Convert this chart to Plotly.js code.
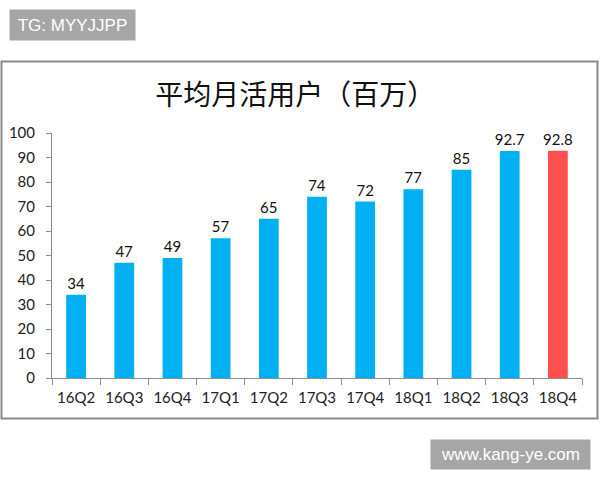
<!DOCTYPE html>
<html>
<head>
<meta charset="utf-8">
<script src="https://cdn.plot.ly/plotly-3.0.1.min.js"></script>
<style>html,body{margin:0;padding:0;background:#fff;}#chart{width:600px;height:480px;}</style>
</head>
<body>
<div id="chart"></div>
<script>
const categories = ["16Q2","16Q3","16Q4","17Q1","17Q2","17Q3","17Q4","18Q1","18Q2","18Q3","18Q4"];
const values = [34, 47, 49, 57, 65, 74, 72, 77, 85, 92.7, 92.8];
const valueLabels = ["34","47","49","57","65","74","72","77","85","92.7","92.8"];
const barColors = ["#00B0F0","#00B0F0","#00B0F0","#00B0F0","#00B0F0","#00B0F0","#00B0F0","#00B0F0","#00B0F0","#00B0F0","#FF5050"];
const titleText = "平均月活用户（百万）";
const watermarkTop = "TG: MYYJJPP";
const watermarkBottom = "www.kang-ye.com";

const numFont = "Lato, 'Noto Sans', sans-serif";

const trace = {
  type: "bar",
  x: categories,
  y: values,
  text: valueLabels,
  textposition: "outside",
  constraintext: "none",
  textfont: {family: numFont, size: 15, color: "#111"},
  cliponaxis: false,
  marker: {color: barColors, line: {width: 0}},
  hoverinfo: "x+y"
};

const layout = {
  width: 600, height: 480,
  margin: {l: 52, r: 18, t: 133, b: 102, pad: 0},
  paper_bgcolor: "#ffffff",
  plot_bgcolor: "#ffffff",
  showlegend: false,
  bargap: 0.59,
  title: {
    text: titleText,
    font: {family: "'Noto Sans CJK SC', sans-serif", size: 28, color: "#111"},
    x: 0.492, xanchor: "center",
    y: 1 - 95/480, yanchor: "middle",
    xref: "container", yref: "container"
  },
  xaxis: {
    type: "category",
    showgrid: false,
    showline: true, linecolor: "#8c8c8c", linewidth: 1,
    ticks: "outside", tickson: "boundaries", ticklen: 6, tickcolor: "#8c8c8c",
    tickfont: {family: numFont, size: 15, color: "#222"},
    ticklabelstandoff: 6,
    zeroline: false
  },
  yaxis: {
    range: [0, 100],
    dtick: 10,
    showgrid: false,
    showline: true, linecolor: "#8c8c8c", linewidth: 1,
    ticks: "outside", ticklen: 5, tickcolor: "#8c8c8c",
    tickfont: {family: numFont, size: 15, color: "#222"},
    ticklabelstandoff: 8,
    zeroline: false
  },
  shapes: [{
    type: "rect", xref: "paper", yref: "paper",
    x0: (1.5 - 52) / 530, x1: (597.5 - 52) / 530,
    y0: (378 - 418.5) / 245, y1: (378 - 61.5) / 245,
    line: {color: "#8a8a8a", width: 2},
    fillcolor: "rgba(0,0,0,0)",
    layer: "below"
  }],
  annotations: [
    {
      text: watermarkTop, xref: "paper", yref: "paper",
      x: (72.5 - 52) / 530, y: (378 - 25) / 245,
      xanchor: "center", yanchor: "middle", showarrow: false,
      bgcolor: "#a6a6a6", width: 125, height: 30, borderpad: 0,
      font: {family: "'Liberation Sans', Arial, sans-serif", size: 17, color: "#ffffff"}
    },
    {
      text: watermarkBottom, xref: "paper", yref: "paper",
      x: (510.5 - 52) / 530, y: (378 - 454.5) / 245,
      xanchor: "center", yanchor: "middle", showarrow: false,
      bgcolor: "#a6a6a6", width: 159, height: 29, borderpad: 0,
      font: {family: "'Liberation Sans', Arial, sans-serif", size: 17, color: "#ffffff"}
    }
  ]
};

Plotly.newPlot("chart", [trace], layout, {displayModeBar: false, staticPlot: true});
</script>
</body>
</html>
